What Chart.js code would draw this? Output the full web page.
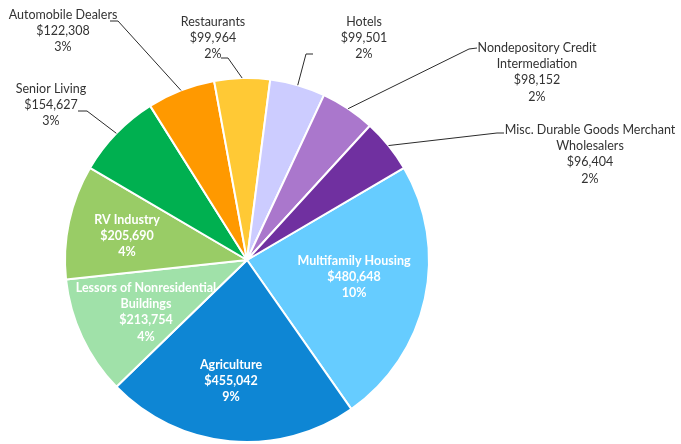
<!DOCTYPE html>
<html>
<head>
<meta charset="utf-8">
<script src="https://cdn.jsdelivr.net/npm/chart.js@4"></script>
<style>
	html, body { margin: 0; padding: 0; background: #fff; }
	#wrap { width: 681px; height: 444px; position: relative; }
</style>
</head>
<body>
<div id="wrap"><canvas id="industryPie"></canvas></div>
<script>
// Loan totals by industry (largest first)
const industries = [
	['Multifamily Housing'],
	['Agriculture'],
	['Lessors of Nonresidential', 'Buildings'],
	['RV Industry'],
	['Senior Living'],
	['Automobile Dealers'],
	['Restaurants'],
	['Hotels'],
	['Nondepository Credit', 'Intermediation'],
	['Misc. Durable Goods Merchant', 'Wholesalers']
];
const amounts = [480648, 455042, 213754, 205690, 154627, 122308, 99964, 99501, 98152, 96404];
const shareOfTotal = ['10%', '9%', '4%', '4%', '3%', '3%', '2%', '2%', '2%', '2%'];

const sliceColors = [
	'#66CCFF', '#0E86D4', '#A0E1A9', '#99CC66', '#00B050',
	'#FF9900', '#FFC935', '#CCCCFF', '#AA77CC', '#7030A0'
];

// where each label block sits: [centre x, y of first line]
const labelSpots = [
	[354, 261], [231, 365], [146, 288], [127, 220], [51, 89],
	[63, 15], [213, 22], [364, 22], [537, 48], [590, 130]
];
// leader lines for labels placed outside the pie: text end, then elbow
const leaders = {
	4: [[78, 111], [87, 111]],
	5: [[110, 21], [118, 21]],
	6: [[221, 58], [228, 58]],
	7: [[313, 54], [306, 54]],
	8: [[477, 48], [469, 49]],
	9: [[504, 133], [497, 133]]
};

const LINE_H = 16.2;

const sliceLabels = {
	id: 'sliceLabels',
	afterDatasetsDraw(chart) {
		const ctx = chart.ctx;
		const arcs = chart.getDatasetMeta(0).data;
		ctx.save();
		arcs.forEach((arc, i) => {
			const p = arc.getProps(['x', 'y', 'startAngle', 'endAngle', 'outerRadius'], true);
			const mid = (p.startAngle + p.endAngle) / 2;
			const inside = !(i in leaders);

			if (!inside) {
				const pts = leaders[i];
				ctx.strokeStyle = '#2b2b2b';
				ctx.lineWidth = 1;
				ctx.beginPath();
				ctx.moveTo(pts[0][0], pts[0][1]);
				ctx.lineTo(pts[1][0], pts[1][1]);
				ctx.lineTo(p.x + Math.cos(mid) * p.outerRadius, p.y + Math.sin(mid) * p.outerRadius);
				ctx.stroke();
			}

			const lines = [...industries[i], '$' + amounts[i].toLocaleString('en-US'), shareOfTotal[i]];
			ctx.font = (inside ? 'bold ' : '') + '12.5px Lato';
			ctx.fillStyle = inside ? '#ffffff' : '#333333';
			ctx.textAlign = 'center';
			ctx.textBaseline = 'middle';
			const [cx, cy] = labelSpots[i];
			lines.forEach((t, k) => ctx.fillText(t, cx, cy + k * LINE_H));
		});
		ctx.restore();
	}
};

new Chart(document.getElementById('industryPie').getContext('2d'), {
	type: 'pie',
	data: {
		labels: industries.map(l => l.join(' ')),
		datasets: [{
			data: amounts,
			backgroundColor: sliceColors,
			borderColor: '#ffffff',
			borderWidth: 2
		}]
	},
	options: {
		responsive: true,
		maintainAspectRatio: false,
		animation: false,
		rotation: 59.6,
		layout: {
			padding: { top: 77, bottom: 1, left: 64, right: 251 }
		},
		plugins: {
			legend: { display: false },
			tooltip: { enabled: false }
		}
	},
	plugins: [sliceLabels]
});
</script>
</body>
</html>
